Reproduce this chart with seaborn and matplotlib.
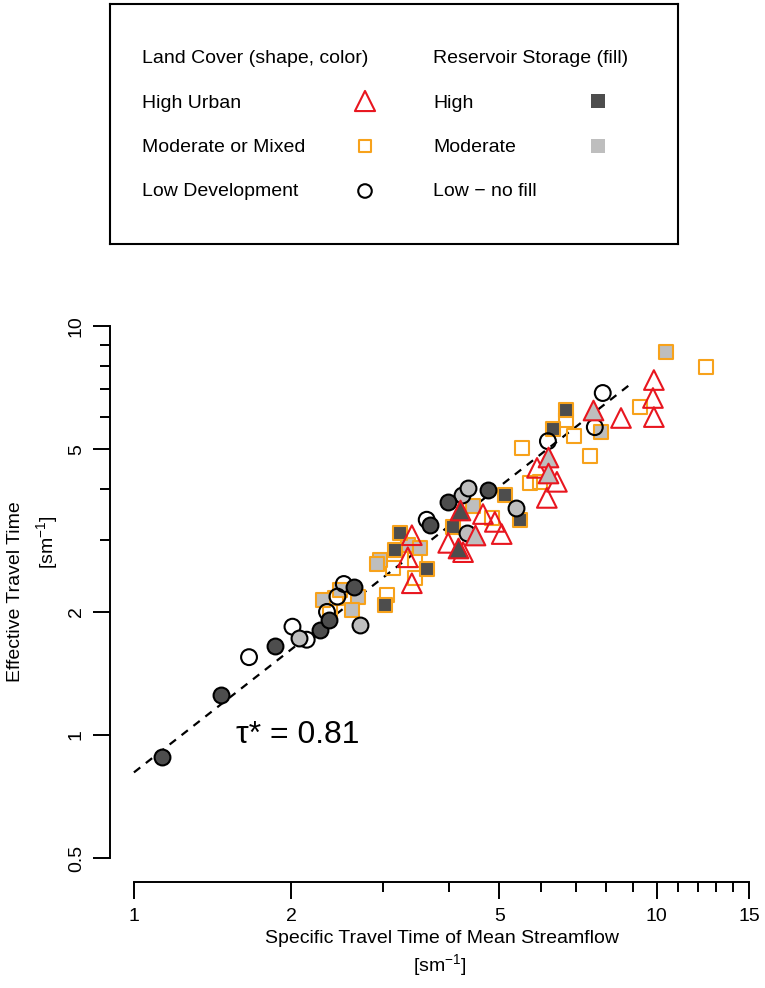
import pandas as pd
import matplotlib.pyplot as plt
import seaborn as sns
from matplotlib.ticker import FixedLocator, FixedFormatter, NullFormatter

# valores (tiempo de viaje especifico vs efectivo)
# High Urban (triangulos)
urban_x = [3.40, 3.40, 3.34, 3.99, 4.26, 4.65, 4.90, 5.05, 5.90, 6.16, 6.44, 8.54, 9.87, 9.83, 9.87,
           4.20, 4.16,
           6.19, 7.54, 6.19, 4.49]
urban_y = [2.35, 3.08, 2.72, 2.95, 2.80, 3.47, 3.32, 3.10, 4.50, 3.80, 4.16, 5.96, 7.38, 6.67, 5.99,
           3.55, 2.87,
           4.78, 6.23, 4.37, 3.08]
urban_storage = ['Low'] * 15 + ['High'] * 2 + ['Moderate'] * 4

# Moderate or Mixed (cuadrados)
mixed_x = [3.02, 3.23, 3.16, 3.63, 4.07, 5.12, 5.47, 6.33, 6.70,
           2.30, 2.48, 2.68, 2.61, 2.95, 3.34, 3.52, 4.45, 7.82, 10.40, 2.92,
           2.37, 2.43, 3.05, 3.13, 3.45, 3.45, 4.84, 5.52, 5.72, 5.98, 6.70, 6.94, 7.45, 9.28, 12.41]
mixed_y = [2.08, 3.12, 2.83, 2.55, 3.23, 3.86, 3.36, 5.60, 6.23,
           2.14, 2.26, 2.18, 2.02, 2.68, 2.91, 2.87, 3.63, 5.51, 8.64, 2.62,
           2.00, 2.16, 2.20, 2.56, 2.68, 2.42, 3.39, 5.03, 4.13, 4.16, 5.89, 5.38, 4.81, 6.34, 7.94]
mixed_storage = ['High'] * 9 + ['Moderate'] * 11 + ['Low'] * 15

# Low Development (circulos)
low_x = [1.13, 1.47, 1.86, 2.27, 2.36, 2.63, 3.68, 3.99, 4.75,
         2.07, 2.71, 4.24, 4.35, 5.38, 4.33,
         1.66, 2.01, 2.14, 2.34, 2.45, 2.52, 3.63, 6.19, 7.61, 7.88]
low_y = [0.884, 1.25, 1.65, 1.81, 1.91, 2.30, 3.26, 3.71, 3.97,
         1.73, 1.86, 3.86, 4.02, 3.59, 3.12,
         1.55, 1.84, 1.71, 2.00, 2.18, 2.34, 3.36, 5.23, 5.66, 6.86]
low_storage = ['High'] * 9 + ['Moderate'] * 6 + ['Low'] * 10

# linea 1:1 escalada por tau*
line_x = [1.0, 9.0]
line_y = [0.81, 7.29]
tau_text = '\u03c4* = 0.81'

x_ticks = [1, 2, 5, 10, 15]
x_minor = [3, 4, 6, 7, 8, 9, 11, 12, 13, 14]
y_ticks = [0.5, 1, 2, 5, 10]
y_minor = [3, 4, 6, 7, 8, 9]

cover_labels = ['High Urban', 'Moderate or Mixed', 'Low Development']
storage_labels = ['High', 'Moderate', 'Low \u2212 no fill']

frames = []
for cover, xs, ys, st in [('Low Development', low_x, low_y, low_storage),
                          ('Moderate or Mixed', mixed_x, mixed_y, mixed_storage),
                          ('High Urban', urban_x, urban_y, urban_storage)]:
    frames.append(pd.DataFrame({'x': xs, 'y': ys, 'storage': st, 'cover': cover}))
df = pd.concat(frames, ignore_index=True)

cover_marker = {'High Urban': '^', 'Moderate or Mixed': 's', 'Low Development': 'o'}
cover_edge = {'High Urban': '#E8161F', 'Moderate or Mixed': '#F7A21B', 'Low Development': 'black'}
cover_size = {'High Urban': 200, 'Moderate or Mixed': 105, 'Low Development': 130}
storage_fill = {'High': '#4D4D4D', 'Moderate': '#BEBEBE', 'Low': 'none'}

sns.set_style('ticks')
plt.rcParams['font.family'] = ['Liberation Sans', 'DejaVu Sans']
plt.rcParams['text.color'] = 'black'
plt.rcParams['xtick.color'] = 'black'
plt.rcParams['ytick.color'] = 'black'
plt.rcParams['axes.labelcolor'] = 'black'
plt.rcParams['mathtext.fontset'] = 'custom'
plt.rcParams['mathtext.rm'] = 'Liberation Sans'
plt.rcParams['mathtext.it'] = 'Liberation Sans:italic'
plt.rcParams['mathtext.default'] = 'regular'

W, H = 765, 988
fig = plt.figure(figsize=(W / 100, H / 100), dpi=100)


def fx(px):
    return px / W


def fy(py):
    return 1 - py / H


# grafico principal
ax = fig.add_axes([fx(110), fy(882), fx(765) - fx(110), fy(305) - fy(882)])

for cover in ['Moderate or Mixed', 'Low Development', 'High Urban']:
    for st in ['Low', 'Moderate', 'High']:
        sub = df[(df.cover == cover) & (df.storage == st)]
        if len(sub) == 0:
            continue
        sns.scatterplot(data=sub, x='x', y='y', ax=ax, marker=cover_marker[cover],
                        color=storage_fill[st], edgecolor=cover_edge[cover],
                        linewidth=1.5, s=cover_size[cover], legend=False, zorder=3)

sns.lineplot(x=line_x, y=line_y, ax=ax, color='black', linewidth=1.6,
             dashes=False, zorder=2)
ax.lines[-1].set_dashes((3.6, 3.2))

ax.set_xscale('log')
ax.set_yscale('log')
ax.set_xlim(0.90, 16.1)
ax.set_ylim(0.437, 11.26)

ax.xaxis.set_major_locator(FixedLocator(x_ticks))
ax.xaxis.set_major_formatter(FixedFormatter([str(v) for v in x_ticks]))
ax.xaxis.set_minor_locator(FixedLocator(x_minor))
ax.xaxis.set_minor_formatter(NullFormatter())
ax.yaxis.set_major_locator(FixedLocator(y_ticks))
ax.yaxis.set_major_formatter(FixedFormatter([str(v) for v in y_ticks]))
ax.yaxis.set_minor_locator(FixedLocator(y_minor))
ax.yaxis.set_minor_formatter(NullFormatter())

ax.tick_params(which='major', direction='out', length=12, width=1.4, color='black')
ax.tick_params(which='minor', direction='out', length=7, width=1.4, color='black')
ax.tick_params(axis='x', which='major', labelsize=14, pad=7)
ax.tick_params(axis='y', which='major', labelsize=14, pad=6, labelrotation=90)
for lab in ax.get_yticklabels():
    lab.set_va('center')

sns.despine(ax=ax)
for side in ['left', 'bottom']:
    ax.spines[side].set_linewidth(1.4)
    ax.spines[side].set_color('black')
ax.spines['left'].set_bounds(0.5, 10)
ax.spines['bottom'].set_bounds(1, 15)
ax.set_xlabel('')
ax.set_ylabel('')
ax.patch.set_alpha(0)

ax.text(1.57, 0.956, tau_text, fontsize=23, ha='left', va='baseline')

# etiquetas de ejes
fig.text(fx(442), fy(943), 'Specific Travel Time of Mean Streamflow', fontsize=14,
         ha='center', va='baseline')
fig.text(fx(440), fy(971), '[sm$^{-1}$]', fontsize=14, ha='center', va='baseline')
fig.text(fx(16), fy(592), 'Effective Travel Time', fontsize=14, rotation=90,
         ha='center', va='center')
fig.text(fx(47), fy(542), '[sm$^{-1}$]', fontsize=14, rotation=90,
         ha='center', va='center')

# leyenda (caja superior)
lax = fig.add_axes([fx(110), fy(244), fx(678) - fx(110), fy(4) - fy(244)])
lax.set_xlim(110, 678)
lax.set_ylim(244, 4)
lax.set_xticks([])
lax.set_yticks([])
for s in lax.spines.values():
    s.set_linewidth(1.5)
    s.set_color('black')

rows = [63, 108, 152, 196]
lax.text(142, rows[0], 'Land Cover (shape, color)', fontsize=14, va='baseline')
lax.text(433, rows[0], 'Reservoir Storage (fill)', fontsize=14, va='baseline')
for r, lab in zip(rows[1:], cover_labels):
    lax.text(142, r, lab, fontsize=14, va='baseline')
for r, lab in zip(rows[1:], storage_labels):
    lax.text(433, r, lab, fontsize=14, va='baseline')

key_y = [101, 146, 191]
key_size = {'High Urban': 210, 'Moderate or Mixed': 85, 'Low Development': 95}
for ky, cover in zip(key_y, cover_labels):
    lax.scatter([365], [ky], marker=cover_marker[cover], s=key_size[cover],
                facecolor='none', edgecolor=cover_edge[cover], linewidth=1.5)
for ky, st in zip(key_y[:2], ['High', 'Moderate']):
    lax.scatter([598], [ky], marker='s', s=100, facecolor=storage_fill[st],
                edgecolor='none', linewidth=0)

fig.savefig('out.png', dpi=100)
